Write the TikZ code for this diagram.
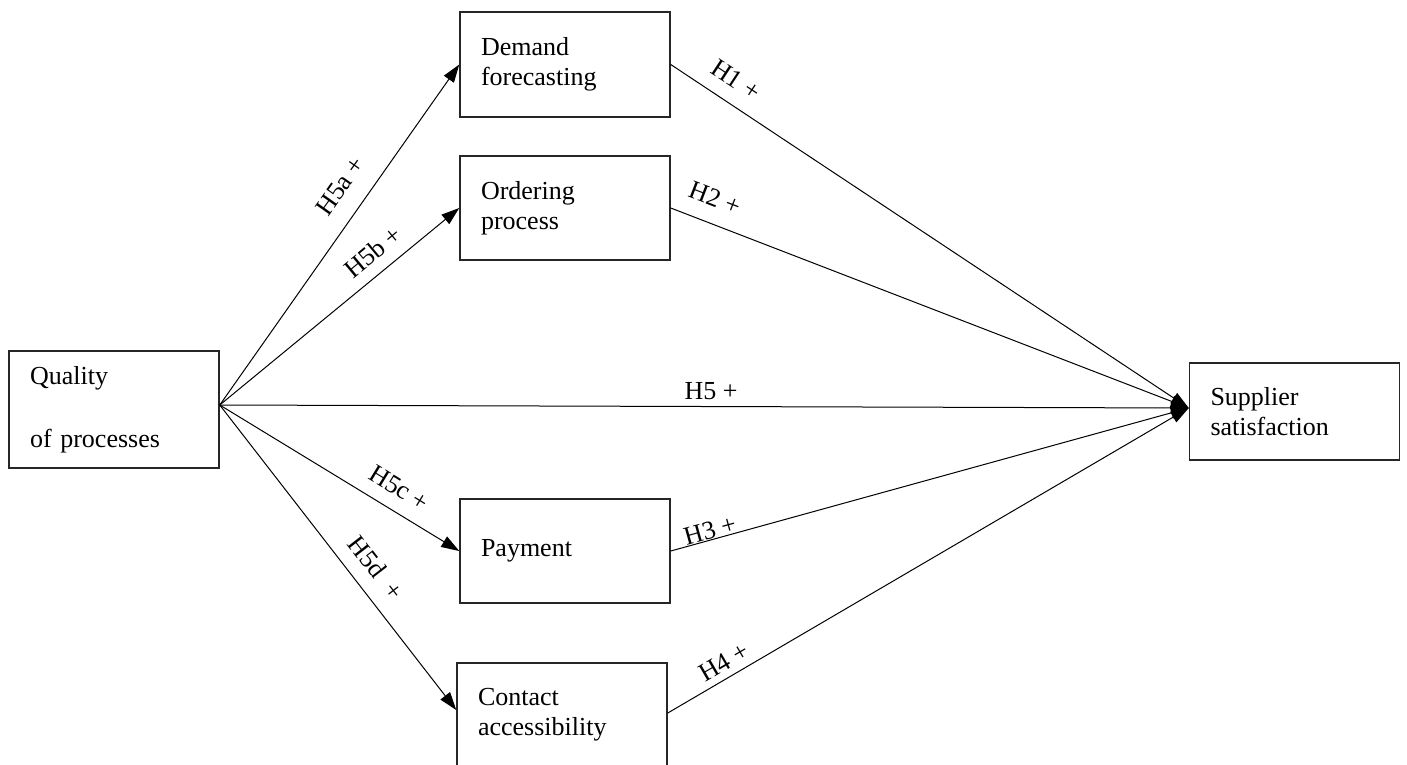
\documentclass[tikz,border=0pt]{standalone}
\usepackage{fontspec}
\setmainfont{Liberation Serif}
\usetikzlibrary{arrows.meta}
\begin{document}
\begin{tikzpicture}[x=1pt,y=-1pt,
  box/.style={draw=black!85,line width=1.5pt,rectangle,inner xsep=21pt,inner ysep=0pt,
    text width=168pt,align=left,font=\fontsize{26}{30}\selectfont},
  conn/.style={line width=1pt,draw=black},
  arr/.style={conn,-{Triangle[length=18pt,width=12pt]}},
  lbl/.style={font=\fontsize{26}{30}\selectfont,inner sep=0pt}]
\useasboundingbox (0,0) rectangle (1407,764);
\node[box,minimum width=210pt,minimum height=117pt] (qual) at (114,409.5) {Quality\\[33pt]of processes};
\node[box,minimum width=210pt,minimum height=105pt] (dem) at (565,64.5) {Demand\\forecasting};
\node[box,minimum width=210pt,minimum height=104pt] (ord) at (565,208) {Ordering\\process};
\node[box,minimum width=210pt,minimum height=104pt] (pay) at (565,551) {Payment};
\node[box,minimum width=210pt,minimum height=104pt] (con) at (562,715) {Contact\\accessibility};
\node[box,minimum width=209pt,minimum height=97pt] (sup) at (1294.5,411.5) {Supplier\\satisfaction};
\coordinate (qs) at ([yshift=4.5pt]qual.east);
\coordinate (st) at ([yshift=3.5pt]sup.west);
\draw[arr] (qs) -- (dem.west);
\draw[arr] (qs) -- (ord.west);
\draw[arr] (qs) -- (pay.west);
\draw[arr] (qs) -- ([yshift=5pt]con.west);
\draw[arr] (qs) -- (st);
\draw[arr] (dem.east) -- (st);
\draw[arr] (ord.east) -- (st);
\draw[arr] (pay.east) -- (st);
\draw[arr] ([yshift=2pt]con.east) -- (st);
\node[lbl,rotate=54.7] (l5a) at (340,186) {H5a +};
\node[lbl,rotate=39.8] (l5b) at (373,252) {H5b +};
\node[lbl,rotate=-31.5] (l5c) at (399,488) {H5c +};
\node[lbl,rotate=-52.2] (l5d) at (376,568) {H5d\ \ +};
\node[lbl] (l5) at (711,391) {H5 +};
\node[lbl,rotate=-33.4] (l1) at (736,80) {H1 +};
\node[lbl,rotate=-21] (l2) at (715,198) {H2 +};
\node[lbl,rotate=15.4] (l3) at (710,530) {H3 +};
\node[lbl,rotate=30.3] (l4) at (724,662) {H4 +};
\end{tikzpicture}
\end{document}
